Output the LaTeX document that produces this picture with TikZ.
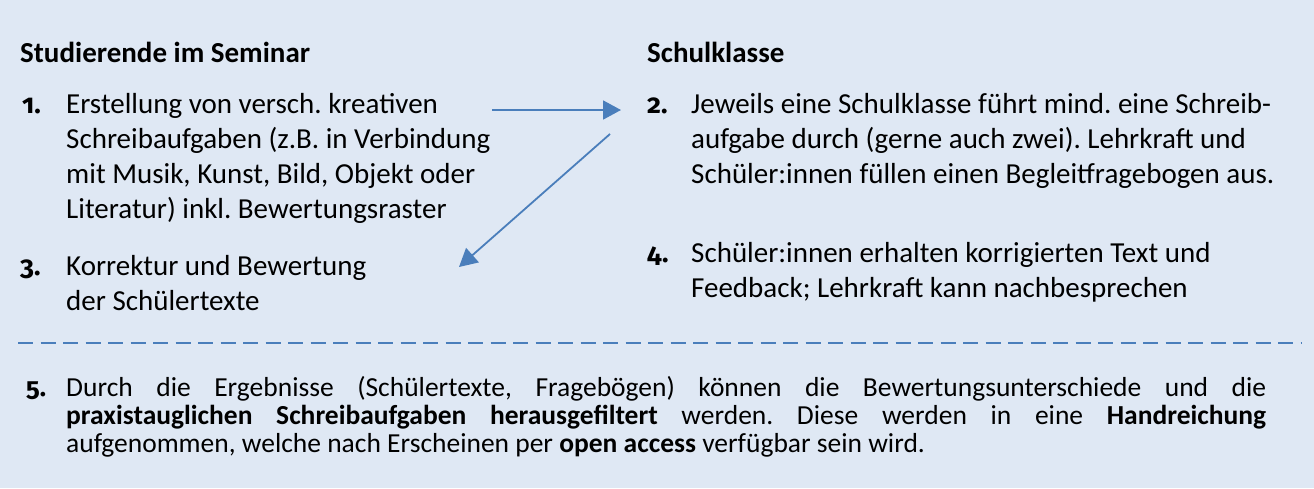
\documentclass[tikz,border=0pt]{standalone}
\usepackage{fontspec}
\setmainfont{Carlito}
\newfontfamily\numfont{Fira Sans}[Numbers=OldStyle]
\usetikzlibrary{arrows.meta}
\definecolor{bgblue}{HTML}{DFE8F4}
\definecolor{arrblue}{HTML}{4A7EBB}
\frenchspacing
\begin{document}
\begin{tikzpicture}[x=1pt,y=-1pt,
  txt/.style={anchor=base west,inner sep=0pt,font=\fontsize{29}{35}\selectfont},
  head/.style={anchor=base west,inner sep=0pt,font=\fontsize{29}{35}\selectfont\bfseries},
  num/.style={anchor=base west,inner sep=0pt,font=\numfont\fontsize{27}{35}\selectfont\bfseries},
  btxt/.style={anchor=base west,inner sep=0pt,font=\fontsize{27.5}{28}\selectfont},
  bnum/.style={anchor=base west,inner sep=0pt,font=\numfont\fontsize{26}{28}\selectfont\bfseries},
  conn/.style={arrblue,line width=1.8pt,-{Triangle[length=18pt,width=19pt]}},
  sepline/.style={arrblue,line width=2.5pt,dash pattern=on 15pt off 7.5pt}]
\fill[bgblue] (0,0) rectangle (1314,488);
\useasboundingbox (0,0) rectangle (1314,488);
% headings
\node[head] (h1) at (20,62) {Studierende im Seminar};
\node[head] (h2) at (647,62) {Schulklasse};
% item 1
\node[num] (n1) at (22,113) {1.};
\node[txt] (t1) at (66,113) {\parbox[t]{470pt}{Erstellung von versch. kreativen\\
Schreibaufgaben (z.B. in Verbindung\\
mit Musik, Kunst, Bild, Objekt oder\\
Literatur) inkl. Bewertungsraster}};
% item 3
\node[num] (n3) at (20,275) {3.};
\node[txt] (t3) at (66,275) {\parbox[t]{420pt}{Korrektur und Bewertung\\
der Schülertexte}};
% item 2
\node[num] (n2) at (647,113) {2.};
\node[txt] (t2) at (691,113) {\parbox[t]{620pt}{Jeweils eine Schulklasse führt mind. eine Schreib-\\
aufgabe durch (gerne auch zwei). Lehrkraft und\\
Schüler:innen füllen einen Begleitfragebogen aus.}};
% item 4
\node[num] (n4) at (647,262) {4.};
\node[txt] (t4) at (691,262) {\parbox[t]{620pt}{Schüler:innen erhalten korrigierten Text und\\
Feedback; Lehrkraft kann nachbesprechen}};
% separator
\coordinate (s1) at (18,343);
\coordinate (s2) at (1302,343);
\draw[sepline] (s1) -- (s2);
% item 5
\node[bnum] (n5) at (26,396) {5.};
\node[btxt] (t5) at (66,396) {\parbox[t]{1200pt}{\hyphenpenalty=10000\emergencystretch=40pt
Durch die Ergebnisse (Schülertexte, Fragebögen) können die Bewertungsunterschiede und die\linebreak
\textbf{praxistauglichen Schreibaufgaben herausgefiltert} werden. Diese werden in eine \textbf{Handreichung}\linebreak
aufgenommen, welche nach Erscheinen per \textbf{open access} verfügbar sein wird.}};
% arrows
\coordinate (a1s) at (492,110);
\coordinate (a1e) at (621,110);
\coordinate (a2s) at (610,134);
\coordinate (a2e) at (459,267);
\draw[conn] (a1s) -- (a1e);
\draw[conn] (a2s) -- (a2e);
\end{tikzpicture}
\end{document}
